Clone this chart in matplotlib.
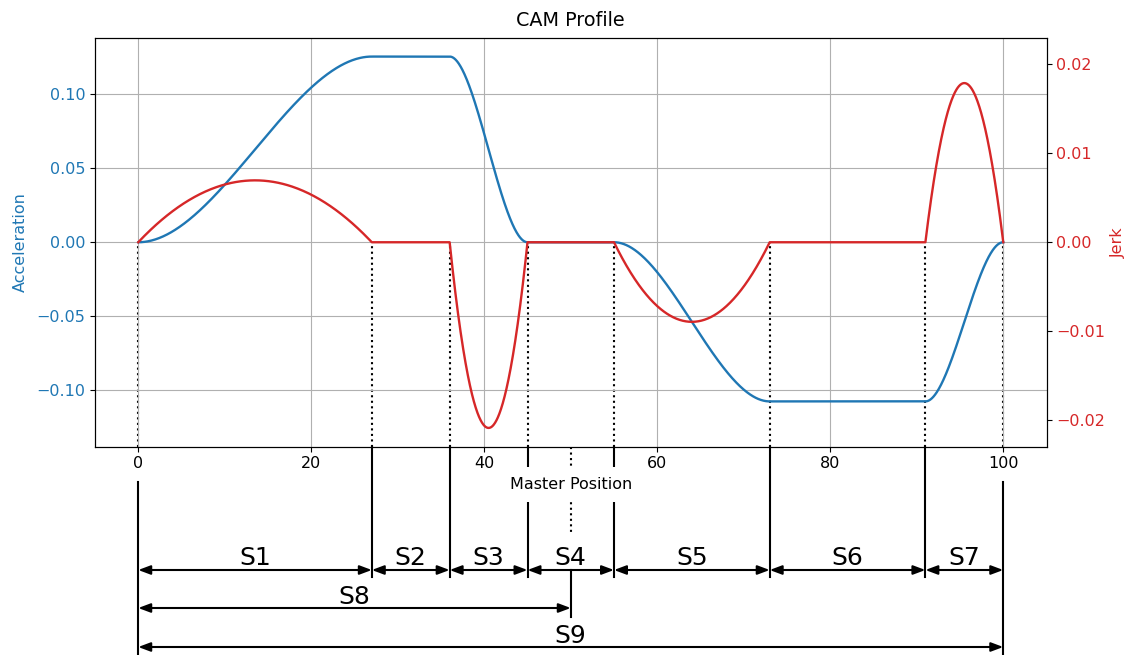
import numpy as np
import matplotlib
matplotlib.use("Agg")
import matplotlib.pyplot as plt
from matplotlib import transforms

# Segment boundaries along the master axis and acceleration level reached at each one
boundaries = [0, 27, 36, 45, 55, 73, 91, 100]
accel_levels = [0.0, 0.1253, 0.1253, 0.0, 0.0, -0.1074, -0.1074, 0.0]
segment_names = ["S1", "S2", "S3", "S4", "S5", "S6", "S7"]
span_names = ["S8", "S9"]
span_ends = [50, 100]
x_ticks = [0, 20, 40, 60, 80, 100]

plt.rcParams["font.size"] = 11.5

W, H = 1131, 655
fig = plt.figure(figsize=(W / 100, H / 100), dpi=100)
ax = fig.add_axes([95 / W, 1 - 446.5 / H, 951.5 / W, 408.5 / H])
ax2 = ax.twinx()

# Each segment: smoothstep acceleration change with parabolic jerk
xs, acc, jerk = [], [], []
for x0, x1, a0, a1 in zip(boundaries[:-1], boundaries[1:],
                          accel_levels[:-1], accel_levels[1:]):
    u = np.linspace(0, 1, 300)
    L = x1 - x0
    da = a1 - a0
    xs.append(x0 + u * L)
    acc.append(a0 + da * (3 * u ** 2 - 2 * u ** 3))
    jerk.append(6 * da / L * u * (1 - u))
xs = np.concatenate(xs)
acc = np.concatenate(acc)
jerk = np.concatenate(jerk)

ax.plot(xs, acc, color="tab:blue", lw=1.7, zorder=2)
ax2.plot(xs, jerk, color="tab:red", lw=1.7)

amax = 1.1 * np.abs(acc).max()
jmax = 1.1 * np.abs(jerk).max()
ax.set_ylim(-amax, amax)
ax2.set_ylim(-jmax, jmax)
ax.set_xticks(x_ticks)
ax.grid(True)

ax.set_ylabel("Acceleration", color="tab:blue", labelpad=6)
ax2.set_ylabel("Jerk", color="tab:red")
ax.tick_params(axis="y", labelcolor="tab:blue")
ax2.tick_params(axis="y", labelcolor="tab:red")
ax.set_title("CAM Profile", pad=9)
ax.set_xlabel("Master Position",
              bbox=dict(facecolor="white", edgecolor="none", pad=7))

# dotted drop lines from the zero level to the bottom of the plot
ax.vlines(boundaries, -amax, 0, colors="black", linestyles=":", lw=1.5, zorder=1)

# dimension lines below the axes (x in data, y in figure pixels)
trans = transforms.blended_transform_factory(ax.transData, fig.transFigure)
fy = lambda p: 1 - p / H
line_kw = dict(color="black", lw=1.5, transform=trans, clip_on=False, zorder=1)

for b in boundaries:
    if b in (boundaries[0], boundaries[-1]):
        ax.plot([b, b], [fy(482), fy(660)], **line_kw)
    else:
        ax.plot([b, b], [fy(446.5), fy(577)], **line_kw)

mid_span = span_ends[0]
ax.plot([mid_span, mid_span], [fy(446.5), fy(533)], color="black", lw=1.5,
        ls=":", transform=trans, clip_on=False, zorder=1)
ax.plot([mid_span, mid_span], [fy(570), fy(617)], **line_kw)

arrow_kw = dict(arrowstyle="<|-|>,head_length=0.4,head_width=0.15",
                color="black", lw=1.5, shrinkA=0, shrinkB=0, mutation_scale=18)


def dimension(x0, x1, y_line, y_text, name):
    ax.annotate("", xy=(x1, fy(y_line)), xytext=(x0, fy(y_line)),
                xycoords=trans, textcoords=trans, arrowprops=arrow_kw,
                annotation_clip=False)
    ax.text((x0 + x1) / 2, fy(y_text), name, transform=trans, ha="center",
            va="baseline", fontsize=18, clip_on=False)


for x0, x1, name in zip(boundaries[:-1], boundaries[1:], segment_names):
    dimension(x0, x1, 570, 565, name)

dimension(boundaries[0], span_ends[0], 608, 604, span_names[0])
dimension(boundaries[0], span_ends[1], 647, 643, span_names[1])

fig.savefig("out.png", dpi=100)
